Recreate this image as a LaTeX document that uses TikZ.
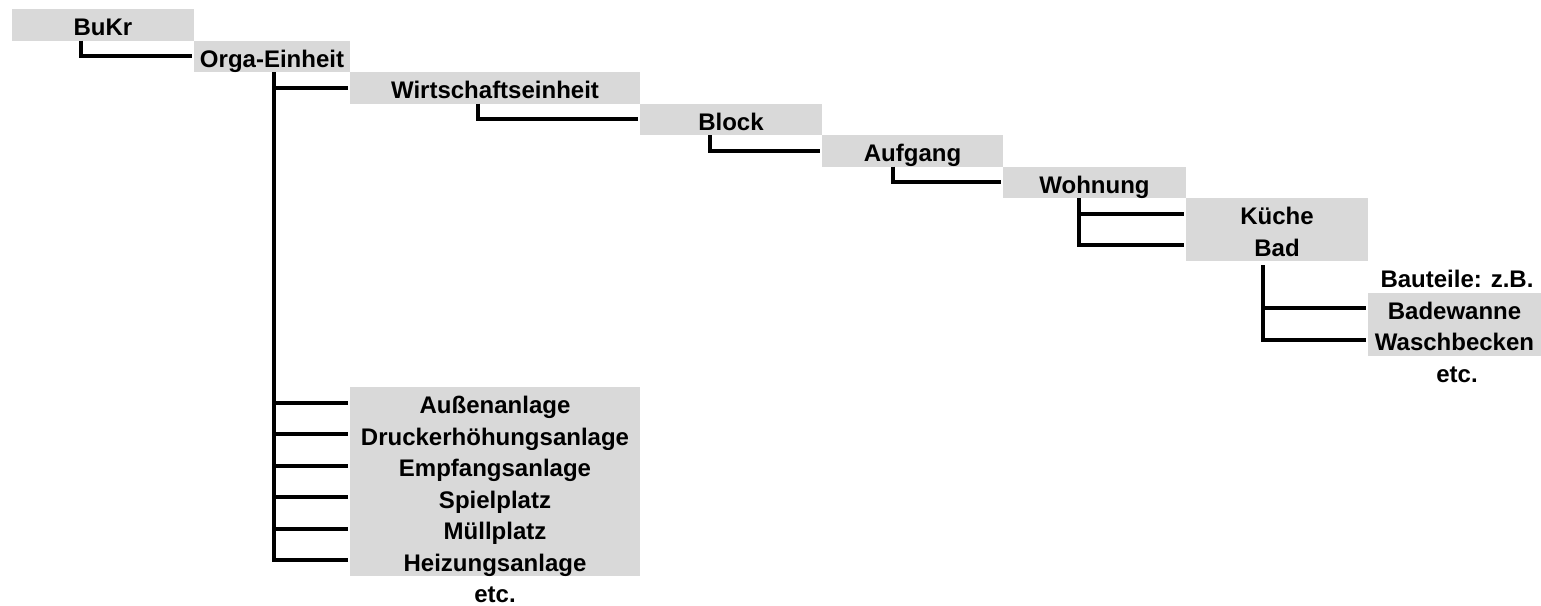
\documentclass[tikz,border=0pt]{standalone}
\usepackage{fontspec}
\setmainfont{Liberation Sans}
\usetikzlibrary{calc}
\definecolor{cellgray}{RGB}{217,217,217}

\begin{document}
\begin{tikzpicture}[x=0.5pt,y=-0.5pt,
    cellbox/.style={fill=cellgray,font=\fontsize{12pt}{14pt}\selectfont\bfseries,
      inner xsep=0pt,inner ysep=0pt,outer sep=0pt,text height=13.25pt,text depth=2.5pt,
      minimum width=#1},
    plain/.style={font=\fontsize{12pt}{14pt}\selectfont\bfseries,inner sep=0pt,
      text height=13.25pt,text depth=2.5pt},
    link/.style={line width=1.8pt,shorten >=1pt}]
  \useasboundingbox (0,0) rectangle (1541,605);
  % the chain, one row lower and one column further each
  \node[cellbox=91pt] (bk) at (103,24.75) {BuKr};
  \node[cellbox=78pt] (oe) at (272,56.25) {Orga-Einheit};
  \node[cellbox=145pt] (we) at (495,87.75) {Wirtschaftseinheit};
  \node[cellbox=91pt] (bl) at (731,119.25) {Block};
  \node[cellbox=90.5pt] (af) at (912.5,150.75) {Aufgang};
  \node[cellbox=91.5pt] (wo) at (1094.5,182.25) {Wohnung};
  \node[cellbox=91pt] (ku) at (1277,213.75) {Küche};
  \node[cellbox=91pt] (bd) at (1277,245.25) {Bad};
  \node[plain] (bt) at (1457,276.75) {Bauteile: z.B.};
  \node[cellbox=86.5pt] (bw) at (1454.5,308.25) {Badewanne};
  \node[cellbox=86.5pt] (wb) at (1454.5,339.75) {Waschbecken};
  \node[plain] (e1) at (1457,371.25) {etc.};
  % installations below the Orga-Einheit
  \foreach \t [count=\i] in {Außenanlage,Druckerhöhungsanlage,Empfangsanlage,
                            Spielplatz,Müllplatz,Heizungsanlage}
    \node[cellbox=145pt] (a\i) at (495,{371.25+31.5*\i}) {\t};
  \node[plain] (e2) at (495,591.75) {etc.};
  % connectors
  \draw[link] ($(bk.south west)+(69,0)$) |- (oe.west);
  \coordinate (oev) at ($(oe.south west)+(80,0)$);
  \foreach \n in {we,a1,a2,a3,a4,a5,a6} \draw[link] (oev) |- (\n.west);
  \draw[link] ($(we.south west)+(128,0)$) |- (bl.west);
  \draw[link] ($(bl.south west)+(70,0)$) |- (af.west);
  \draw[link] ($(af.south west)+(71,0)$) |- (wo.west);
  \foreach \n in {ku,bd} \draw[link] ($(wo.south west)+(76,0)$) |- (\n.west);
  \foreach \n in {bw,wb} \draw[link] ($(bd.south west)+(77,4)$) |- (\n.west);
\end{tikzpicture}
\end{document}
